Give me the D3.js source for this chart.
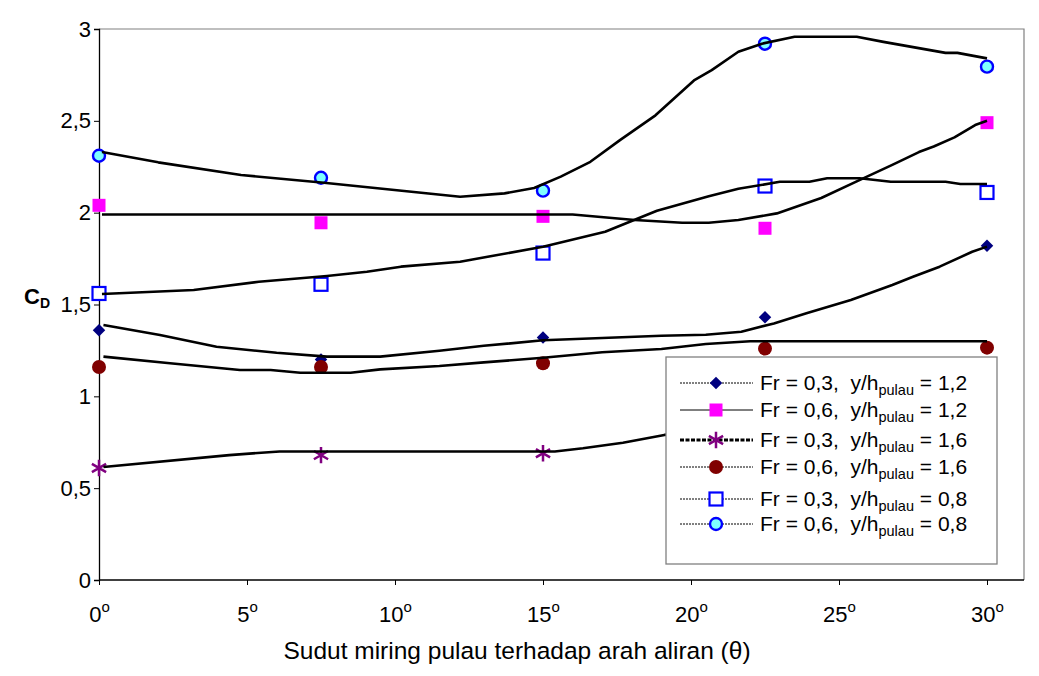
<!DOCTYPE html>
<html>
<head>
<meta charset="utf-8">
<script src="https://cdn.jsdelivr.net/npm/d3@7"></script>
<style>
	body { margin: 0; background: #fff; }
	svg text { font-family: "Liberation Sans", Arial, sans-serif; }
</style>
</head>
<body>
<div id="chart"></div>
<script>

// measured angles (degrees) and drag coefficients
const angles = [0, 7.5, 15, 22.5, 30];
const cdFr03y12 = [1.36, 1.20, 1.32, 1.43, 1.82];
const cdFr06y12 = [2.04, 1.945, 1.98, 1.915, 2.49];
const cdFr03y16 = [0.61, 0.68, 0.69];          // last two are hidden behind the legend
const cdFr06y16 = [1.16, 1.16, 1.18, 1.26, 1.265];
const cdFr03y08 = [1.56, 1.61, 1.78, 2.145, 2.11];
const cdFr06y08 = [2.31, 2.19, 2.12, 2.92, 2.795];

// hand-fitted trend curves [angle, CD]
const trendFr06y08 = [[0.1,2.33],[2,2.274],[4.8,2.205],[7.6,2.163],[12.2,2.087],[13.7,2.105],[14.7,2.134],[15.6,2.196],[16.6,2.277],[17.6,2.395],[18.8,2.53],[20.1,2.72],[20.7,2.776],[21.6,2.876],[22.4,2.92],[23.5,2.958],[25.6,2.958],[26.5,2.93],[28.6,2.87],[29,2.87],[30,2.84]];
const trendFr06y12 = [[0.1,1.99],[16,1.99],[18.1,1.96],[19.7,1.945],[20.6,1.945],[21.6,1.96],[22.9,1.996],[24.4,2.08],[25.6,2.17],[26.8,2.26],[27.7,2.33],[28.2,2.36],[28.9,2.41],[29.6,2.477],[30,2.5]];
const trendFr03y08 = [[0.1,1.557],[3.2,1.579],[5.4,1.624],[7.7,1.655],[9.05,1.678],[10.2,1.706],[12.2,1.733],[15,1.814],[17.1,1.896],[18.85,2.01],[20.6,2.09],[21.6,2.13],[23,2.168],[24,2.168],[24.6,2.187],[25.7,2.187],[26.75,2.168],[28.6,2.168],[29.1,2.156],[30,2.156]];
const trendFr03y12 = [[0.15,1.388],[2.06,1.334],[3.97,1.27],[6,1.237],[7.7,1.216],[9.5,1.216],[11.5,1.248],[13,1.275],[15,1.305],[17,1.318],[19,1.33],[20.5,1.335],[21.7,1.352],[22.8,1.397],[23.9,1.452],[25.4,1.524],[26.8,1.606],[27.5,1.651],[28.4,1.706],[29.5,1.787],[30,1.815]];
const trendFr06y16 = [[0.15,1.216],[2.4,1.18],[4.76,1.143],[5.8,1.143],[6.8,1.128],[8.5,1.128],[9.5,1.147],[11.5,1.165],[13,1.185],[15,1.21],[17,1.24],[19,1.258],[20.5,1.285],[22,1.30],[30,1.30]];
const trendFr03y16 = [[0.15,0.615],[4.4,0.68],[6.1,0.70],[15.4,0.70],[16.35,0.717],[17.7,0.747],[19.1,0.79],[20.5,0.80]];

const yTicks = [0, 0.5, 1, 1.5, 2, 2.5, 3];
const xTicks = [0, 5, 10, 15, 20, 25, 30];

const legendLabels = [
	["Fr = 0,3,  y/h", "pulau", " = 1,2"],
	["Fr = 0,6,  y/h", "pulau", " = 1,2"],
	["Fr = 0,3,  y/h", "pulau", " = 1,6"],
	["Fr = 0,6,  y/h", "pulau", " = 1,6"],
	["Fr = 0,3,  y/h", "pulau", " = 0,8"],
	["Fr = 0,6,  y/h", "pulau", " = 0,8"]
];

let width = 1039,
	height = 676;

let svg = d3.select("#chart")
	.append("svg")
		.attr("width", width)
		.attr("height", height);

let x = d3.scaleLinear().domain([0, 30]).range([99, 987]);
let y = d3.scaleLinear().domain([0, 3]).range([580, 29]);

// plot frame (top and right sides grey)
svg.append("path")
	.attr("d", "M99,29H1024V580")
	.attr("fill", "none")
	.attr("stroke", "#808080")
	.attr("stroke-width", 1.2);

let yAxis = svg.append("g")
	.attr("transform", "translate(99,0)")
	.call(d3.axisLeft(y).tickValues(yTicks).tickSize(5).tickPadding(3)
		.tickFormat(d => String(d).replace(".", ",")));
yAxis.select(".domain").attr("stroke", "#000").attr("stroke-width", 1.3);
yAxis.selectAll("text").attr("font-size", 22).attr("fill", "#000")
	.style("font-family", "'Liberation Sans', Arial, sans-serif");

let xAxis = svg.append("g")
	.attr("transform", "translate(0,580)")
	.call(d3.axisBottom(x).tickValues(xTicks).tickSize(5).tickSizeOuter(0).tickFormat(""));
xAxis.select(".domain").attr("d", "M99,0H1024").attr("stroke", "#000").attr("stroke-width", 1.3);

xAxis.selectAll(".tick")
	.append("text")
	.attr("y", 42)
	.attr("text-anchor", "middle")
	.attr("fill", "#000")
	.attr("font-size", 22)
	.style("font-family", "'Liberation Sans', Arial, sans-serif")
	.each(function(d) {
		let t = d3.select(this);
		t.append("tspan").text(d);
		t.append("tspan").attr("dy", -10).attr("font-size", 15).text("o");
	});

svg.append("text")
	.attr("x", 517)
	.attr("y", 659)
	.attr("text-anchor", "middle")
	.attr("font-size", 24.5)
	.text("Sudut miring pulau terhadap arah aliran (\u03b8)");

let cLabel = svg.append("text")
	.attr("x", 24)
	.attr("y", 304)
	.attr("font-weight", "bold")
	.attr("font-size", 22);
cLabel.append("tspan").text("C");
cLabel.append("tspan").attr("dy", 4).attr("font-size", 14).text("D");

// marker shapes
function drawMarker(g, kind, cx, cy)
{
	if (kind == "diamond")
		g.append("path").attr("d", d3.symbol(d3.symbolDiamond2, 100)())
			.attr("transform", "translate(" + cx + "," + cy + ")")
			.attr("fill", "#000080");
	else if (kind == "square")
		g.append("rect").attr("x", cx - 6.5).attr("y", cy - 6.5).attr("width", 13).attr("height", 13)
			.attr("fill", "#ff00ff");
	else if (kind == "star")
		g.append("path").attr("d", d3.symbol(d3.symbolAsterisk, 190)())
			.attr("transform", "translate(" + cx + "," + cy + ")")
			.attr("fill", "none").attr("stroke", "#800080").attr("stroke-width", 2.5);
	else if (kind == "dot")
		g.append("circle").attr("cx", cx).attr("cy", cy).attr("r", 7)
			.attr("fill", "#800000");
	else if (kind == "openSquare")
		g.append("rect").attr("x", cx - 6.5).attr("y", cy - 6.5).attr("width", 13).attr("height", 13)
			.attr("fill", "#fff").attr("stroke", "#0000ff").attr("stroke-width", 2.2);
	else if (kind == "ring")
		g.append("circle").attr("cx", cx).attr("cy", cy).attr("r", 6)
			.attr("fill", "#7fffff").attr("stroke", "#0000ff").attr("stroke-width", 2.4);
}

let series = [
	{ values: cdFr03y12, kind: "diamond" },
	{ values: cdFr06y12, kind: "square" },
	{ values: cdFr03y16, kind: "star" },
	{ values: cdFr06y16, kind: "dot" },
	{ values: cdFr03y08, kind: "openSquare" },
	{ values: cdFr06y08, kind: "ring" }
];

let markers = svg.append("g");
series.forEach(function(s) {
	s.values.forEach(function(v, i) {
		drawMarker(markers, s.kind, x(angles[i]), y(v));
	});
});

let line = d3.line()
	.x(d => x(d[0]))
	.y(d => y(d[1]));

svg.append("g")
	.selectAll("path")
	.data([trendFr06y08, trendFr06y12, trendFr03y08, trendFr03y12, trendFr06y16, trendFr03y16])
	.enter()
	.append("path")
	.attr("d", line)
	.attr("fill", "none")
	.attr("stroke", "#000")
	.attr("stroke-width", 2.6)
	.attr("stroke-linejoin", "round");

// legend
let legend = svg.append("g");
legend.append("rect")
	.attr("x", 666).attr("y", 357).attr("width", 331).attr("height", 207)
	.attr("fill", "#fff").attr("stroke", "#808080").attr("stroke-width", 1.3);

let rowY = [383, 410, 440, 467, 499, 524];
let sampleDash = ["2,1", null, "4,1.5", "2,1", "2,1", "2,1"];
let sampleWidth = [1, 1, 3, 1, 1, 1];

series.forEach(function(s, i) {
	legend.append("line")
		.attr("x1", 680).attr("x2", 753)
		.attr("y1", rowY[i]).attr("y2", rowY[i])
		.attr("stroke", "#000")
		.attr("stroke-width", sampleWidth[i])
		.attr("stroke-dasharray", sampleDash[i]);
	drawMarker(legend, s.kind, 716, rowY[i]);

	let t = legend.append("text")
		.attr("x", 760)
		.attr("y", rowY[i] + 7)
		.attr("font-size", 21)
		.attr("xml:space", "preserve")
		.style("white-space", "pre");
	t.append("tspan").text(legendLabels[i][0]);
	t.append("tspan").attr("dy", 5).attr("font-size", 14.5).text(legendLabels[i][1]);
	t.append("tspan").attr("dy", -5).text(legendLabels[i][2]);
});

</script>
</body>
</html>
